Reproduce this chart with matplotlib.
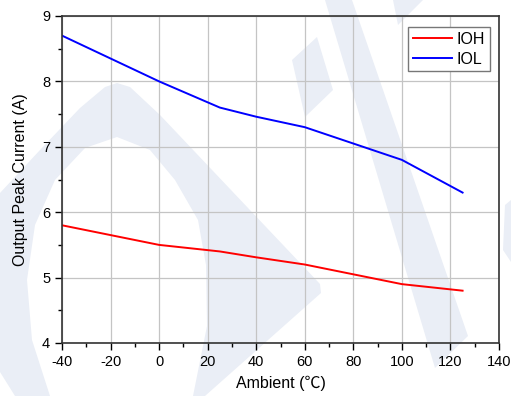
import matplotlib
matplotlib.use("Agg")
import matplotlib.pyplot as plt
from matplotlib.patches import Polygon
from matplotlib.ticker import MultipleLocator

plt.rcParams['font.family'] = ['Liberation Sans', 'Noto Sans CJK SC', 'DejaVu Sans']
plt.rcParams['axes.unicode_minus'] = False

# data
temp = [-40, -20, 0, 25, 40, 60, 80, 100, 125]
ioh = [5.8, 5.65, 5.5, 5.4, 5.31, 5.2, 5.05, 4.9, 4.8]
iol = [8.7, 8.35, 8.0, 7.6, 7.46, 7.3, 7.05, 6.8, 6.3]

W, H = 511, 396
fig = plt.figure(figsize=(W / 100, H / 100), dpi=100)
ax = fig.add_axes([62 / W, 1 - 343 / H, 437 / W, 327 / H])
ax.set_facecolor('none')

# faint watermark logo behind the plot (pixel outlines)
def px(pts):
    return [(x / W, 1 - y / H) for x, y in pts]

wm = '#eaeef6'
shapes = [
    [(15, 396), (0, 372), (0, 193), (40, 150), (80, 108), (105, 87), (117, 83), (130, 87),
     (160, 115), (320, 284), (321, 293), (205, 396), (193, 396), (207, 326), (206, 265),
     (198, 220), (175, 180), (150, 150), (117, 137), (85, 148), (55, 180), (35, 225),
     (27, 280), (32, 340), (50, 396)],
    [(325, 0), (352, 0), (468, 336), (435, 368)],
    [(292, 60), (317, 37), (333, 90), (305, 117)],
    [(393, 0), (423, 0), (398, 25)],
    [(505, 205), (511, 200), (511, 262), (503, 250)],
]
for s in shapes:
    fig.patches.append(Polygon(px(s), closed=True, transform=fig.transFigure,
                               facecolor=wm, edgecolor='none', zorder=-1))

ax.plot(temp, ioh, color='red', lw=1.4, label='IOH')
ax.plot(temp, iol, color='blue', lw=1.4, label='IOL')

ax.set_xlim(-40, 140)
ax.set_ylim(4, 9)
ax.xaxis.set_major_locator(MultipleLocator(20))
ax.xaxis.set_minor_locator(MultipleLocator(10))
ax.yaxis.set_major_locator(MultipleLocator(1))
ax.yaxis.set_minor_locator(MultipleLocator(0.5))
ax.tick_params(which='major', direction='out', length=5, width=1, labelsize=10.5)
ax.tick_params(which='minor', direction='out', length=3, width=1)
ax.grid(True, which='major', color='#c4c4c4', lw=0.9)
ax.set_axisbelow(True)
for sp in ax.spines.values():
    sp.set_color('#333333')
    sp.set_linewidth(1.2)

ax.set_xlabel('Ambient (℃)', fontsize=11.5, labelpad=5)
ax.set_ylabel('Output Peak Current (A)', fontsize=11.5, labelpad=10)

leg = ax.legend(loc='upper right', bbox_to_anchor=(490 / W, 1 - 27 / H),
                bbox_transform=fig.transFigure, fontsize=11.5, fancybox=False,
                framealpha=1, edgecolor='#777777', handlelength=2.45,
                borderpad=0.3, labelspacing=0.3, handletextpad=0.3,
                borderaxespad=0)
leg.get_frame().set_linewidth(1.0)

fig.savefig('out.png', dpi=100)
